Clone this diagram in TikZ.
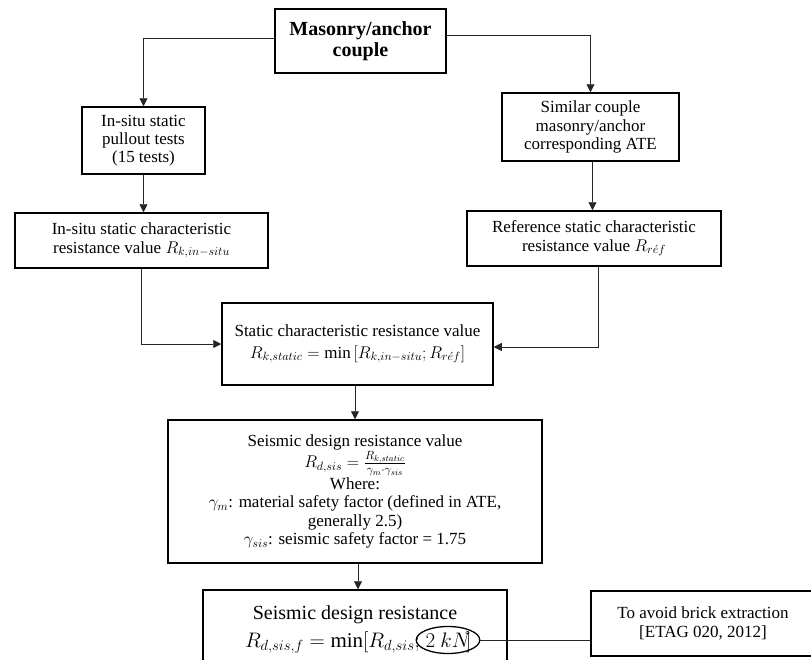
\documentclass[tikz,border=0pt]{standalone}
\usepackage{fix-cm}
\usepackage{fontspec}
\setmainfont{Liberation Serif}
\usetikzlibrary{arrows.meta,shapes.geometric}
\begin{document}
\begin{tikzpicture}[x=1pt,y=-1pt,
  box/.style={draw,line width=1.5pt,align=center,inner sep=2pt,font=\fontsize{17}{18.3}\selectfont},
  conn/.style={line width=0.8pt,draw=black!85},
  arr/.style={conn,-{Triangle[width=8pt,length=8pt]}},
  bigtxt/.style={inner sep=0pt,font=\fontsize{20}{21}\selectfont},
  bigmath/.style={inner sep=0pt,font=\fontsize{21}{22}\selectfont}]
\useasboundingbox (0,0) rectangle (811,659);
\clip (0,0) rectangle (811,659);

\node[box,minimum width=171pt,minimum height=64pt,font=\bfseries\fontsize{20}{21}\selectfont] (top) at (360.5,41) {Masonry/anchor\\couple};
\node[box,minimum width=123pt,minimum height=67pt] (tests) at (143.5,140.5) {In-situ static\\pullout tests\\(15 tests)};
\node[box,minimum width=253pt,minimum height=55pt] (insitu) at (141.5,240.5) {In-situ static characteristic\\resistance value $R_{k,in-situ}$};
\node[box,minimum width=177pt,minimum height=68pt] (similar) at (590.5,127) {Similar couple\\masonry/anchor\\corresponding ATE};
\node[box,minimum width=254pt,minimum height=55pt] (ref) at (594,238.5) {Reference static characteristic\\resistance value $R_{r\acute{e}f}$};
\node[box,minimum width=271pt,minimum height=82pt] (static) at (357.5,344) {Static characteristic resistance value\\[3pt]$R_{k,static}=\min\,[R_{k,in-situ};R_{r\acute{e}f}]$};
\node[box,minimum width=374pt,minimum height=143pt] (seismic) at (355,491.5) {Seismic design resistance value\\$R_{d,sis}=\frac{R_{k,static}}{\gamma_m\cdot\gamma_{sis}}$\\[1pt]Where:\\$\gamma_m$: material safety factor (defined in ATE,\\generally 2.5)\\$\gamma_{sis}$: seismic safety factor = 1.75};
\node[box,minimum width=304pt,minimum height=85pt] (final) at (355,632.5) {};
\node[bigtxt] (l1) at (355,615) {Seismic design resistance};
\node[bigmath,anchor=base east] (l2a) at (420,647) {$R_{d,sis,f}=\min[R_{d,sis};$};
\node[bigmath,draw,ellipse,line width=1.3pt,minimum width=52pt,minimum height=27pt] (kn) at (448,640) {$2\ kN$};
\node[bigmath,anchor=base west] (l2b) at (466,647) {$]$};
\node[box,minimum width=224pt,minimum height=65pt] (avoid) at (703,623.5) {To avoid brick extraction\\{[}ETAG 020, 2012{]}};

\draw[arr] ([yshift=3pt]top.west) -| (tests.north);
\draw[arr] ([yshift=6pt]top.east) -| (similar.north);
\draw[arr] (tests.south) -- (tests.south |- insitu.north);
\draw[arr] ([xshift=2pt]similar.south) -- ([xshift=2pt]similar.south |- ref.north);
\draw[arr] (insitu.south) |- (static.west);
\draw[arr] ([xshift=4pt]ref.south) |- ([yshift=-3pt]static.east);
\draw[arr] (seismic.north |- static.south) -- (seismic.north);
\draw[arr] ([xshift=3pt]seismic.south) -- ([xshift=3pt]seismic.south |- final.north);
\draw[conn] (kn.east) -- (kn.east -| avoid.west);
\end{tikzpicture}
\end{document}
